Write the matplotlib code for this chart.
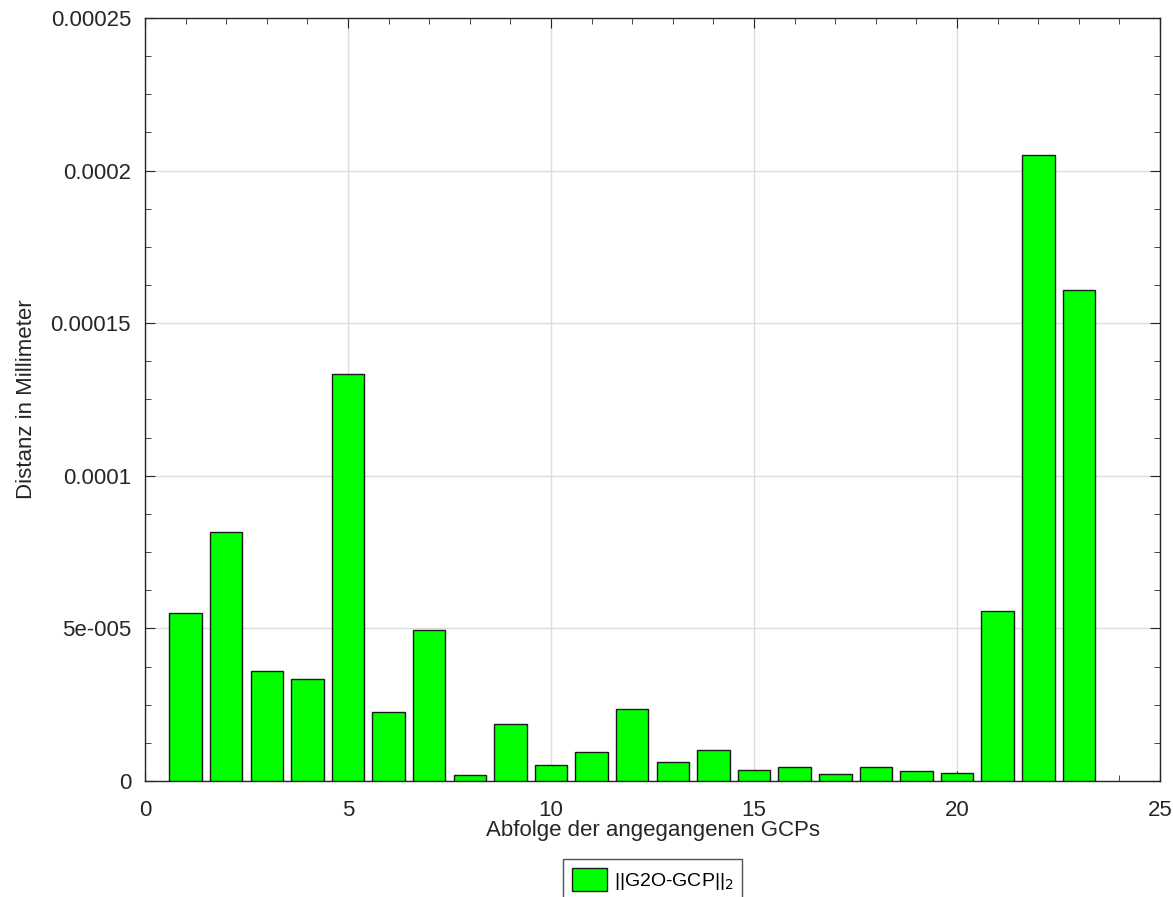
import matplotlib
matplotlib.use("Agg")
import matplotlib.pyplot as plt
from matplotlib.ticker import AutoMinorLocator

plt.rcParams["font.family"] = ["Liberation Sans", "DejaVu Sans"]

# Distanz je GCP
gcp_nr = list(range(1, 24))
distanz = [
    5.50e-5, 8.16e-5, 3.60e-5, 3.34e-5, 1.334e-4, 2.26e-5, 4.95e-5, 2.0e-6,
    1.87e-5, 5.4e-6, 9.4e-6, 2.35e-5, 6.3e-6, 1.02e-5, 3.6e-6, 4.5e-6,
    2.3e-6, 4.5e-6, 3.4e-6, 2.5e-6, 5.57e-5, 2.05e-4, 1.61e-4,
]
y_ticks = [0, 0.00005, 0.0001, 0.00015, 0.0002, 0.00025]
y_tick_labels = ["0", "5e-005", "0.0001", "0.00015", "0.0002", "0.00025"]
x_ticks = [0, 5, 10, 15, 20, 25]

fig = plt.figure(figsize=(11.73, 8.97), dpi=100)
ax = fig.add_axes([0.1236, 0.1293, 0.989 - 0.1236, 0.98 - 0.1293])

ax.bar(gcp_nr, distanz, width=0.8, color="#00ff00", edgecolor="#1a1a1a",
       linewidth=1.0, label="||G2O-GCP||$_2$", zorder=3)

ax.set_xlim(0, 25)
ax.set_ylim(0, 0.00025)
ax.set_xticks(x_ticks)
ax.set_yticks(y_ticks)
ax.set_yticklabels(y_tick_labels)
ax.xaxis.set_minor_locator(AutoMinorLocator(5))
ax.yaxis.set_minor_locator(AutoMinorLocator(4))
ax.tick_params(which="both", direction="in", top=True, right=True,
               colors="#262626", labelcolor="#262626", labelsize=16)
ax.tick_params(which="major", length=7)
ax.tick_params(which="minor", length=4)
ax.tick_params(axis="x", pad=14)
ax.tick_params(axis="y", pad=10)
ax.grid(True, which="major", color="#dcdcdc", linewidth=1.0, zorder=0)
ax.set_axisbelow(True)
for s in ax.spines.values():
    s.set_color("#262626")
    s.set_linewidth(1.0)

ax.set_xlabel("Abfolge der angegangenen GCPs", fontsize=16, color="#262626",
              labelpad=-1)
ax.set_ylabel("Distanz in Millimeter", fontsize=16, color="#262626",
              labelpad=10)

# Legende unten, ragt wie im Original leicht über den Bildrand
leg = fig.legend(loc="upper left", bbox_to_anchor=(563 / 1173, 1 - 859 / 897),
                 fontsize=14, frameon=True, fancybox=False, edgecolor="#262626",
                 handlelength=1.8, handleheight=1.5, handletextpad=0.35,
                 borderpad=0.45, borderaxespad=0)
leg.get_frame().set_linewidth(1.0)

fig.savefig("out.png", dpi=100)
